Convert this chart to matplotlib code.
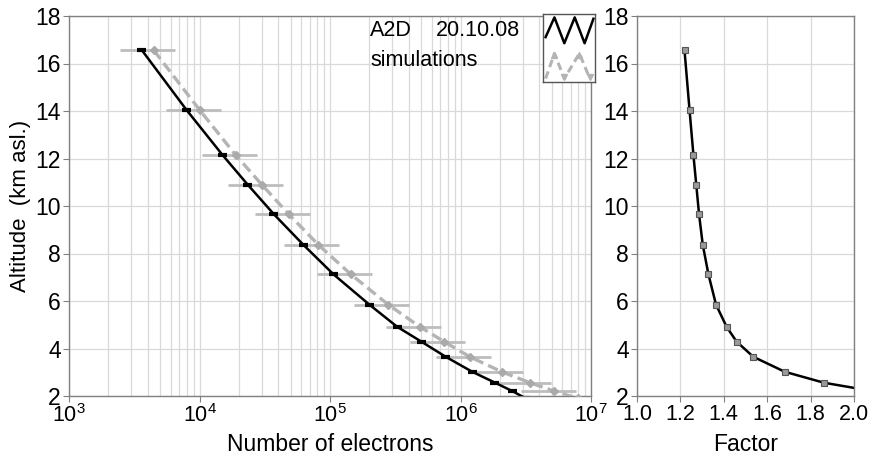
#!/usr/bin/env python3
"""Electron number vs altitude: A2D data against simulations, plus factor panel."""

import matplotlib

matplotlib.use("Agg")
import matplotlib.pyplot as plt
from matplotlib.ticker import FixedLocator, FormatStrFormatter, LogLocator, NullFormatter

# altitudes (km asl.) of the profile points, last one lies just below the axis
altitude = [16.55, 14.05, 12.15, 10.9, 9.65, 8.37, 7.13, 5.85, 4.91, 4.29, 3.65, 3.02, 2.56, 2.2, 1.9]

# A2D 20.10.08 (black)
a2d_electrons = [3630, 7940, 15000, 23400, 37200, 62400, 106000, 200000, 328000,
                 501000, 771000, 1230000, 1840000, 2510000, 3160000]
a2d_err = [290, 640, 1200, 1900, 3000, 5000, 8500, 16000, 26000,
           40000, 62000, 98000, 147000, 200000, 250000]

# simulations (grey)
sim_electrons = [4470, 10000, 18900, 30000, 48400, 81300, 144000, 279000, 490000,
                 748000, 1180000, 2070000, 3410000, 5250000, 7940000]
sim_err = [2000, 4500, 8500, 13500, 21800, 36600, 65000, 125000, 220000,
           337000, 530000, 930000, 1530000, 2360000, 3570000]

# right panel
factor = [1.219, 1.242, 1.260, 1.273, 1.286, 1.303, 1.329, 1.364, 1.413, 1.459,
          1.536, 1.681, 1.861, 2.09, 2.51]

W, H = 872, 457
SPINE = "#808080"
GRID = "#d9d9d9"
GREY = "#b4b4b4"

plt.rcParams.update(
    {
        "font.family": ["Liberation Sans", "DejaVu Sans"],
        "mathtext.fontset": "custom",
        "mathtext.rm": "Liberation Sans",
        "mathtext.it": "Liberation Sans:italic",
        "mathtext.bf": "Liberation Sans:bold",
        "axes.edgecolor": SPINE,
        "axes.linewidth": 1.0,
        "xtick.color": SPINE,
        "ytick.color": SPINE,
        "xtick.labelcolor": "black",
        "ytick.labelcolor": "black",
        "xtick.labelsize": 15.5,
        "ytick.labelsize": 16.5,
    }
)


def px_axes(fig, x0, y0, x1, y1):
    return fig.add_axes([x0 / W, 1 - y1 / H, (x1 - x0) / W, (y1 - y0) / H])


fig = plt.figure(figsize=(W / 100, H / 100), dpi=100)

# ---- left panel ----
ax = px_axes(fig, 69, 16, 591, 396)
ax.set_xscale("log")
ax.set_xlim(1e3, 1e7)
ax.set_ylim(2, 18)
ax.set_yticks(range(2, 19, 2))
ax.xaxis.set_major_locator(LogLocator(base=10, numticks=10))
ax.xaxis.set_minor_locator(LogLocator(base=10, subs=range(2, 10), numticks=20))
ax.xaxis.set_minor_formatter(NullFormatter())
ax.grid(True, which="both", axis="x", color=GRID, linewidth=0.9)
ax.grid(True, which="major", axis="y", color=GRID, linewidth=0.9)
ax.set_axisbelow(True)
ax.tick_params(which="major", direction="out", length=4, pad=2)
ax.tick_params(axis="y", pad=2)
ax.tick_params(which="minor", length=0)

ax.errorbar(sim_electrons, altitude, xerr=sim_err, fmt="none", ecolor="#bdbdbd",
            elinewidth=2.0, capsize=0, zorder=2)
ax.plot(sim_electrons, altitude, color=GREY, linewidth=2.4, linestyle=(0, (3.2, 1.6)),
        marker="D", markersize=4.5, markerfacecolor="#aaaaaa", markeredgecolor="#aaaaaa", zorder=3)
ax.plot(a2d_electrons, altitude, color="black", linewidth=1.8, zorder=4)
ax.errorbar(a2d_electrons, altitude, xerr=a2d_err, fmt="none", ecolor="black",
            elinewidth=3.0, capsize=0, zorder=5)

ax.set_xlabel("Number of electrons", fontsize=16.5)
ax.xaxis.set_label_coords(0.5, -0.097)
ax.set_ylabel("Altitude  (km asl.)", fontsize=16)
ax.yaxis.set_label_coords(-0.072, 0.5)

ax.text(0.577, 0.963, "A2D", transform=ax.transAxes, fontsize=15.5, ha="left", va="center")
ax.text(0.703, 0.963, "20.10.08", transform=ax.transAxes, fontsize=15.5, ha="left", va="center")
ax.text(0.577, 0.882, "simulations", transform=ax.transAxes, fontsize=15.5, ha="left", va="center")

# legend box with zigzag symbols
lg = px_axes(fig, 543, 14, 595, 82)
lg.set_xlim(0, 1)
lg.set_ylim(0, 1)
lg.set_xticks([])
lg.set_yticks([])
for s in lg.spines.values():
    s.set_color("#555555")
    s.set_linewidth(1.0)
lg.plot([0.05, 0.22, 0.41, 0.61, 0.80, 0.97], [0.66, 0.95, 0.57, 0.95, 0.57, 0.93],
        color="black", linewidth=1.8)
lg.plot([0.05, 0.22, 0.41, 0.70, 0.90], [0.05, 0.42, 0.05, 0.42, 0.05], color=GREY,
        linewidth=2.2, linestyle=(0, (2.5, 1.5)))
lg.plot([0.22, 0.70], [0.40, 0.40], linestyle="none", marker="^", markersize=5, color=GREY)
lg.plot([0.41, 0.90], [0.07, 0.07], linestyle="none", marker="v", markersize=5, color=GREY)

# ---- right panel ----
ax2 = px_axes(fig, 637, 16, 854, 396)
ax2.set_xlim(1.0, 2.0)
ax2.set_ylim(2, 18)
ax2.set_yticks(range(2, 19, 2))
ax2.xaxis.set_major_locator(FixedLocator([1.0, 1.2, 1.4, 1.6, 1.8, 2.0]))
ax2.xaxis.set_major_formatter(FormatStrFormatter("%.1f"))
ax2.grid(True, color=GRID, linewidth=0.9)
ax2.set_axisbelow(True)
ax2.tick_params(direction="out", length=4, pad=2)
ax2.tick_params(axis="y", pad=2)
ax2.plot(factor, altitude, color="black", linewidth=1.8, marker="s", markersize=4,
         markerfacecolor="#9a9a9a", markeredgecolor="#555555", markeredgewidth=0.8)
ax2.set_xlabel("Factor", fontsize=16.5)
ax2.xaxis.set_label_coords(0.5, -0.097)

fig.savefig("out.png", dpi=100)
plt.close(fig)
